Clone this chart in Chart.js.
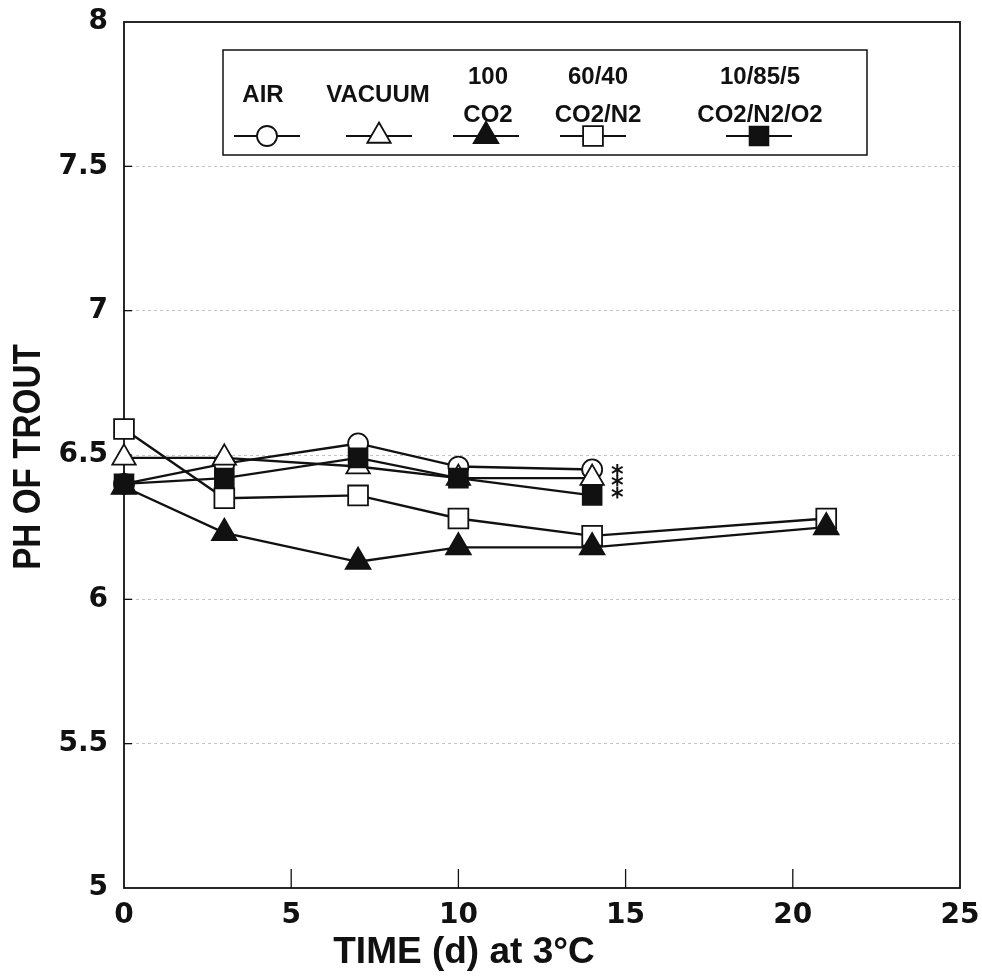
<!DOCTYPE html>
<html><head><meta charset="utf-8">
<script src="https://cdn.jsdelivr.net/npm/chart.js@4/dist/chart.umd.min.js"></script>
<style>html,body{margin:0;padding:0;background:#fff}#wrap{width:982px;height:978px}</style>
</head><body><div id="wrap"><canvas id="c" width="982" height="978"></canvas></div>
<script>
// ---- data ----
const legendLines = [["AIR"],["VACUUM"],["100","CO2"],["60/40","CO2/N2"],["10/85/5","CO2/N2/O2"]];
const daysShort = [0,3,7,10,14];
const daysLong = [0,3,7,10,14,21];
const airPH = [6.40,6.47,6.54,6.46,6.45];
const vacuumPH = [6.49,6.49,6.46,6.42,6.42];
const co2PH = [6.39,6.23,6.13,6.18,6.18,6.25];
const co2n2PH = [6.59,6.35,6.36,6.28,6.22,6.28];
const co2n2o2PH = [6.40,6.42,6.49,6.42,6.36];
const asteriskDay = 14.75;
const asteriskPH = [6.45,6.41,6.37];
const xTicks = [0,5,10,15,20,25];
const yTicks = [5,5.5,6,6.5,7,7.5,8];
const xTitle = "TIME (d) at 3°C";
const yTitle = "PH OF TROUT";

const INK = '#111';
const pts = (xs, ys) => ys.map((v,i)=>({x:xs[i], y:v}));

const styles = [
  {pointStyle:'circle', pointRadius:10, fill:'#fff', bw:1.8, order:5},
  {pointStyle:'triangle', pointRadius:13.5, fill:'#fff', bw:1.8, order:4},
  {pointStyle:'triangle', pointRadius:14.5, fill:INK, bw:1.5, order:2},
  {pointStyle:'rect', pointRadius:14, fill:'#fff', bw:1.8, order:3},
  {pointStyle:'rect', pointRadius:13.5, fill:INK, bw:1.5, order:1}
];
const seriesData = [pts(daysShort, airPH), pts(daysShort, vacuumPH), pts(daysLong, co2PH), pts(daysLong, co2n2PH), pts(daysShort, co2n2o2PH)];

const datasets = seriesData.map((d,i)=>({
  label: legendLines[i].join(' '),
  data: d,
  borderColor: INK,
  borderWidth: 2.4,
  backgroundColor: styles[i].fill,
  pointStyle: styles[i].pointStyle,
  pointRadius: styles[i].pointRadius,
  pointHoverRadius: styles[i].pointRadius,
  pointBorderWidth: styles[i].bw,
  pointBorderColor: INK,
  pointBackgroundColor: styles[i].fill,
  tension: 0,
  fill: false,
  clip: false,
  order: styles[i].order
}));

const decor = {
  id: 'decor',
  beforeDatasetsDraw(chart) {
    const {ctx, chartArea:a, scales:{x,y}} = chart;
    ctx.save();
    ctx.strokeStyle = INK; ctx.lineWidth = 1.3;
    xTicks.forEach(v=>{ if(v===0||v===25) return; const px=x.getPixelForValue(v); ctx.beginPath(); ctx.moveTo(px,a.bottom); ctx.lineTo(px,a.bottom-19); ctx.stroke(); });
    yTicks.forEach(v=>{ if(v===5||v===8) return; const py=y.getPixelForValue(v); ctx.beginPath(); ctx.moveTo(a.left,py); ctx.lineTo(a.left+8,py); ctx.stroke(); });
    ctx.lineWidth = 1.8;
    ctx.strokeRect(a.left, a.top, a.right-a.left, a.bottom-a.top);
    ctx.restore();
  },
  afterDraw(chart) {
    const {ctx, scales:{x,y}} = chart;
    ctx.save();
    ctx.fillStyle = INK; ctx.font = 'bold 24px "DejaVu Sans"'; ctx.textAlign='center'; ctx.textBaseline='middle';
    asteriskPH.forEach(v=> ctx.fillText('*', x.getPixelForValue(asteriskDay), y.getPixelForValue(v)+6));
    ctx.font = 'bold 37px "Liberation Sans"';
    ctx.textAlign='center'; ctx.textBaseline='middle';
    ctx.fillText(xTitle, 464, 953);
    ctx.save(); ctx.translate(29, 457); ctx.rotate(-Math.PI/2); ctx.scale(0.9, 1.05); ctx.fillText(yTitle, 0, 0); ctx.restore();
    ctx.lineWidth = 1.5; ctx.strokeStyle = INK;
    ctx.strokeRect(223, 50, 644, 105);
    const cx = [263, 378, 488, 598, 760];
    const sx = [267, 379, 486, 593, 759];
    ctx.font = 'bold 24px "Liberation Sans"';
    legendLines.forEach((lines,i)=>{
      if (lines.length===1) ctx.fillText(lines[0], cx[i], 95);
      else { ctx.fillText(lines[0], cx[i], 77); ctx.fillText(lines[1], cx[i], 115); }
      const ly = 136;
      ctx.lineWidth = 2.2; ctx.strokeStyle = INK;
      ctx.beginPath(); ctx.moveTo(sx[i]-33, ly); ctx.lineTo(sx[i]+33, ly); ctx.stroke();
      ctx.fillStyle = styles[i].fill; ctx.lineWidth = styles[i].bw;
      Chart.helpers.drawPoint(ctx, {pointStyle: styles[i].pointStyle, radius: styles[i].pointRadius, rotation:0, borderWidth: styles[i].bw}, sx[i], ly);
      ctx.fillStyle = INK;
    });
    ctx.restore();
  }
};

new Chart(document.getElementById('c'), {
  type: 'line',
  data: { datasets },
  options: {
    responsive: false,
    animation: false,
    events: [],
    layout: { padding: { top: 22, right: 22, left: 0, bottom: 0 } },
    plugins: { legend: { display: false }, tooltip: { enabled: false }, title: { display: false } },
    scales: {
      x: {
        type: 'linear', min: 0, max: 25,
        afterBuildTicks: s => { s.ticks = xTicks.map(v=>({value:v})); },
        afterFit: s => { s.height = 90; s.paddingLeft = 0; s.paddingRight = 0; },
        grid: { display: false, drawTicks: false },
        border: { display: false },
        ticks: { color: INK, font: { family: 'DejaVu Sans', weight: 'bold', size: 28 }, padding: 11, maxRotation: 0 }
      },
      y: {
        type: 'linear', min: 5, max: 8,
        afterBuildTicks: s => { s.ticks = yTicks.map(v=>({value:v})); },
        afterFit: s => { s.width = 124; s.paddingTop = 0; s.paddingBottom = 0; },
        grid: { drawTicks: false, color: c => (c.tick && (c.tick.value===5 || c.tick.value===8)) ? 'rgba(0,0,0,0)' : '#c4c4c4', lineWidth: 1 },
        border: { display: false, dash: [3,3] },
        ticks: { color: INK, font: { family: 'DejaVu Sans', weight: 'bold', size: 28 }, padding: 16, callback: v => String(v) }
      }
    }
  },
  plugins: [decor]
});
</script></body></html>
